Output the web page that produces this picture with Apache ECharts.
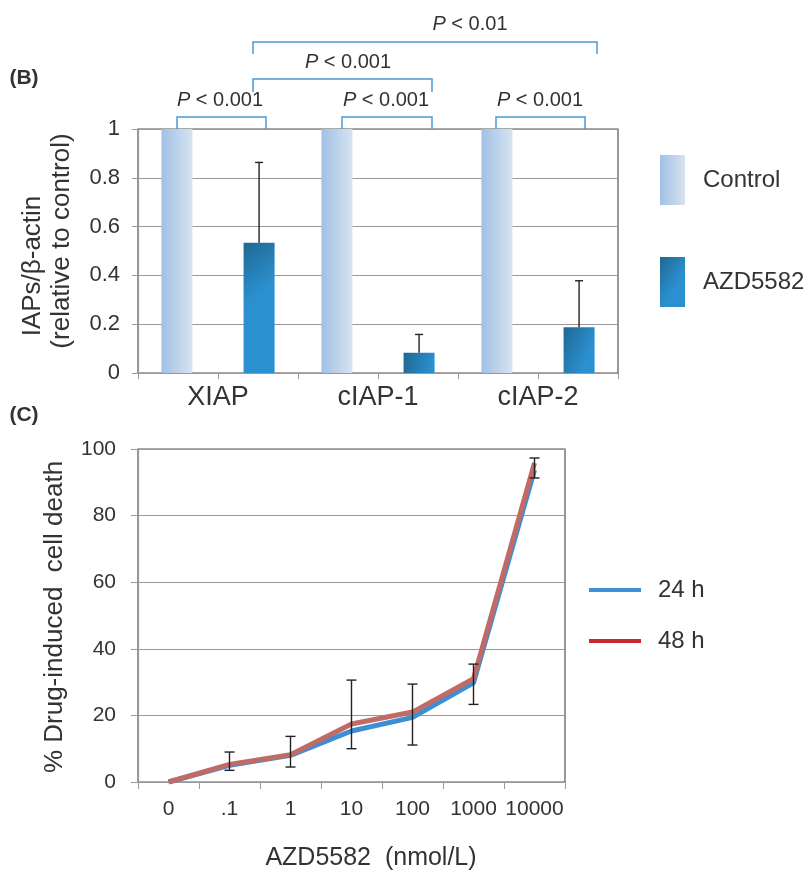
<!DOCTYPE html>
<html>
<head>
<meta charset="utf-8">
<script src="https://cdn.jsdelivr.net/npm/echarts@6/dist/echarts.min.js"></script>
<style>
html, body { margin: 0; padding: 0; background: #fff; }
#main { width: 808px; height: 874px; }
</style>
</head>
<body>
<div id="main"></div>
<script>
// panel B - IAP levels
var genes = ['XIAP', 'cIAP-1', 'cIAP-2'];
var controlLevel = [1, 1, 1];
var azdLevel = [0.534, 0.083, 0.187];
var azdUpper = [0.863, 0.158, 0.378];

// panel C - cell death vs dose
var doses = ['0', '.1', '1', '10', '100', '1000', '10000'];
var death24 = [0, 5, 8, 15.3, 19.4, 29.8, 93.7];
var death48 = [0, 5.3, 8.2, 17.4, 21, 31, 95.8];
var deathLow = [null, 3.5, 4.5, 10, 11.1, 23.3, 91.3];
var deathHigh = [null, 9, 13.7, 30.6, 29.4, 35.4, 97.3];

var font = 'Liberation Sans, Arial, sans-serif';
var txt = '#333';
var barW = 31;
var barGapRatio = 1.65;

var controlColor = new echarts.graphic.LinearGradient(0, 0, 1, 0, [
    { offset: 0, color: '#9fc1e6' },
    { offset: 1, color: '#d8e3ef' }
]);
var azdColor = new echarts.graphic.LinearGradient(0, 0, 1, 0.3, [
    { offset: 0, color: '#1f6892' },
    { offset: 1, color: '#2b90d0' }
]);

var myChart = echarts.init(document.getElementById('main'));

function bracket(x1, x2, yTop, yLeg) {
    return {
        type: 'polyline',
        shape: { points: [[x1, yLeg], [x1, yTop], [x2, yTop], [x2, yLeg]] },
        style: { stroke: '#4b9ad5', lineWidth: 1.5, fill: null }
    };
}
function pLabel(x, y, s) {
    return {
        type: 'text', x: x, y: y,
        style: {
            text: '{i|P} < ' + s,
            rich: { i: { fontStyle: 'italic', fontSize: 20, fontFamily: font, fill: txt } },
            fontSize: 20, fontFamily: font, fill: txt,
            align: 'center', verticalAlign: 'middle'
        }
    };
}
function plainText(x, y, s, size, opts) {
    var st = { text: s, fontSize: size, fontFamily: font, fill: txt, align: 'center', verticalAlign: 'middle' };
    if (opts && opts.bold) st.fontWeight = 'bold';
    return { type: 'text', x: x, y: y, rotation: opts && opts.rot ? Math.PI / 2 : 0, style: st };
}

var option = {
    animation: false,
    backgroundColor: '#fff',
    grid: [
        { left: 138, top: 129, width: 480, height: 244, show: true, borderColor: '#555', borderWidth: 1.2, backgroundColor: '#fff' },
        { left: 138, top: 449, width: 427, height: 333, show: true, borderColor: '#555', borderWidth: 1.2, backgroundColor: '#fff' }
    ],
    legend: [
        {
            orient: 'vertical', left: 660, top: 155, padding: 0,
            itemWidth: 25, itemHeight: 50, itemGap: 52,
            textStyle: { fontSize: 24, fontFamily: font, color: txt, padding: [0, 0, 0, 13] },
            data: [
                { name: 'Control', icon: 'rect', itemStyle: { color: controlColor } },
                { name: 'AZD5582', icon: 'rect', itemStyle: { color: azdColor } }
            ]
        },
        {
            orient: 'vertical', left: 589, top: 578, padding: 0,
            itemWidth: 52, itemHeight: 4, itemGap: 27,
            textStyle: { fontSize: 24, fontFamily: font, color: txt, padding: [0, 0, 0, 12] },
            data: [
                { name: '24 h', icon: 'rect', itemStyle: { color: '#3d8fd6' } },
                { name: '48 h', icon: 'rect', itemStyle: { color: '#c9282f' } }
            ]
        }
    ],
    xAxis: [
        {
            type: 'category', gridIndex: 0, data: genes,
            axisLine: { lineStyle: { color: '#999', width: 1.2 } },
            axisTick: { show: false },
            axisLabel: { fontSize: 27, fontFamily: font, color: txt, margin: 11 }
        },
        {
            // tick marks only (category edges and centres)
            type: 'category', gridIndex: 0, position: 'bottom', data: ['', '', '', '', '', ''],
            axisLine: { show: false },
            axisTick: { show: true, length: 6, lineStyle: { color: '#999' } },
            axisLabel: { show: false }
        },
        {
            type: 'category', gridIndex: 1, data: doses,
            axisLine: { lineStyle: { color: '#999', width: 1.2 } },
            axisTick: { show: true, length: 7, lineStyle: { color: '#999' } },
            axisLabel: { interval: 0, fontSize: 21, fontFamily: font, color: txt, margin: 17 }
        }
    ],
    yAxis: [
        {
            type: 'value', gridIndex: 0, min: 0, max: 1, interval: 0.2,
            axisLine: { show: true, lineStyle: { color: '#999', width: 1.2 } },
            axisTick: { show: true, length: 6, lineStyle: { color: '#999' } },
            splitLine: { lineStyle: { color: '#999', width: 1 } },
            axisLabel: { fontSize: 22, fontFamily: font, color: txt, margin: 18 }
        },
        {
            type: 'value', gridIndex: 1, min: 0, max: 100, interval: 20,
            axisLine: { show: true, lineStyle: { color: '#999', width: 1.2 } },
            axisTick: { show: true, length: 7, lineStyle: { color: '#999' } },
            splitLine: { lineStyle: { color: '#999', width: 1 } },
            axisLabel: { fontSize: 21, fontFamily: font, color: txt, margin: 22 }
        }
    ],
    series: [
        {
            name: 'Control', type: 'bar', xAxisIndex: 0, yAxisIndex: 0,
            barWidth: barW, barGap: (barGapRatio * 100) + '%',
            itemStyle: { color: controlColor },
            data: controlLevel
        },
        {
            name: 'AZD5582', type: 'bar', xAxisIndex: 0, yAxisIndex: 0,
            barWidth: barW, barGap: (barGapRatio * 100) + '%',
            itemStyle: { color: azdColor },
            data: azdLevel
        },
        {
            type: 'custom', xAxisIndex: 0, yAxisIndex: 0, z: 5,
            data: genes.map(function (g, i) { return [i, azdLevel[i], azdUpper[i]]; }),
            encode: { x: 0, y: [1, 2] },
            renderItem: function (params, api) {
                var i = api.value(0);
                var b = api.coord([i, api.value(1)]);
                var t = api.coord([i, api.value(2)]);
                var x = b[0] + barW * (1 + barGapRatio) / 2;
                var st = { stroke: '#222', lineWidth: 1.4 };
                return {
                    type: 'group',
                    children: [
                        { type: 'line', shape: { x1: x, y1: b[1], x2: x, y2: t[1] }, style: st },
                        { type: 'line', shape: { x1: x - 4, y1: t[1], x2: x + 4, y2: t[1] }, style: st }
                    ]
                };
            }
        },
        {
            name: '24 h', type: 'line', xAxisIndex: 2, yAxisIndex: 1,
            symbol: 'none', lineStyle: { color: '#3a8fd5', width: 5 }, itemStyle: { color: '#3a8fd5' },
            data: death24
        },
        {
            name: '48 h', type: 'line', xAxisIndex: 2, yAxisIndex: 1,
            symbol: 'none', lineStyle: { color: '#c16b66', width: 5 }, itemStyle: { color: '#c9282f' },
            data: death48
        },
        {
            type: 'custom', xAxisIndex: 2, yAxisIndex: 1, z: 6,
            data: doses.map(function (d, i) { return [i, deathLow[i], deathHigh[i]]; })
                .filter(function (r) { return r[1] != null; }),
            encode: { x: 0, y: [1, 2] },
            renderItem: function (params, api) {
                var lo = api.coord([api.value(0), api.value(1)]);
                var hi = api.coord([api.value(0), api.value(2)]);
                var x = lo[0];
                var st = { stroke: '#222', lineWidth: 1.4 };
                return {
                    type: 'group',
                    children: [
                        { type: 'line', shape: { x1: x, y1: lo[1], x2: x, y2: hi[1] }, style: st },
                        { type: 'line', shape: { x1: x - 5, y1: lo[1], x2: x + 5, y2: lo[1] }, style: st },
                        { type: 'line', shape: { x1: x - 5, y1: hi[1], x2: x + 5, y2: hi[1] }, style: st }
                    ]
                };
            }
        }
    ],
    graphic: [
        plainText(24, 78, '(B)', 21, { bold: true }),
        plainText(24, 415, '(C)', 21, { bold: true }),
        plainText(33, 266, 'IAPs/\u03b2-actin', 26, { rot: true }),
        plainText(62, 241, '(relative to control)', 26, { rot: true }),
        plainText(55, 617, '% Drug-induced  cell death', 26, { rot: true }),
        plainText(371, 858, 'AZD5582  (nmol/L)', 25),
        bracket(253, 597, 42, 54),
        bracket(253, 432, 79, 92),
        bracket(177, 266, 117, 129),
        bracket(342, 432, 117, 129),
        bracket(496, 585, 117, 129),
        pLabel(470, 24, '0.01'),
        pLabel(348, 62, '0.001'),
        pLabel(220, 100, '0.001'),
        pLabel(386, 100, '0.001'),
        pLabel(540, 100, '0.001')
    ]
};

myChart.setOption(option);
</script>
</body>
</html>
